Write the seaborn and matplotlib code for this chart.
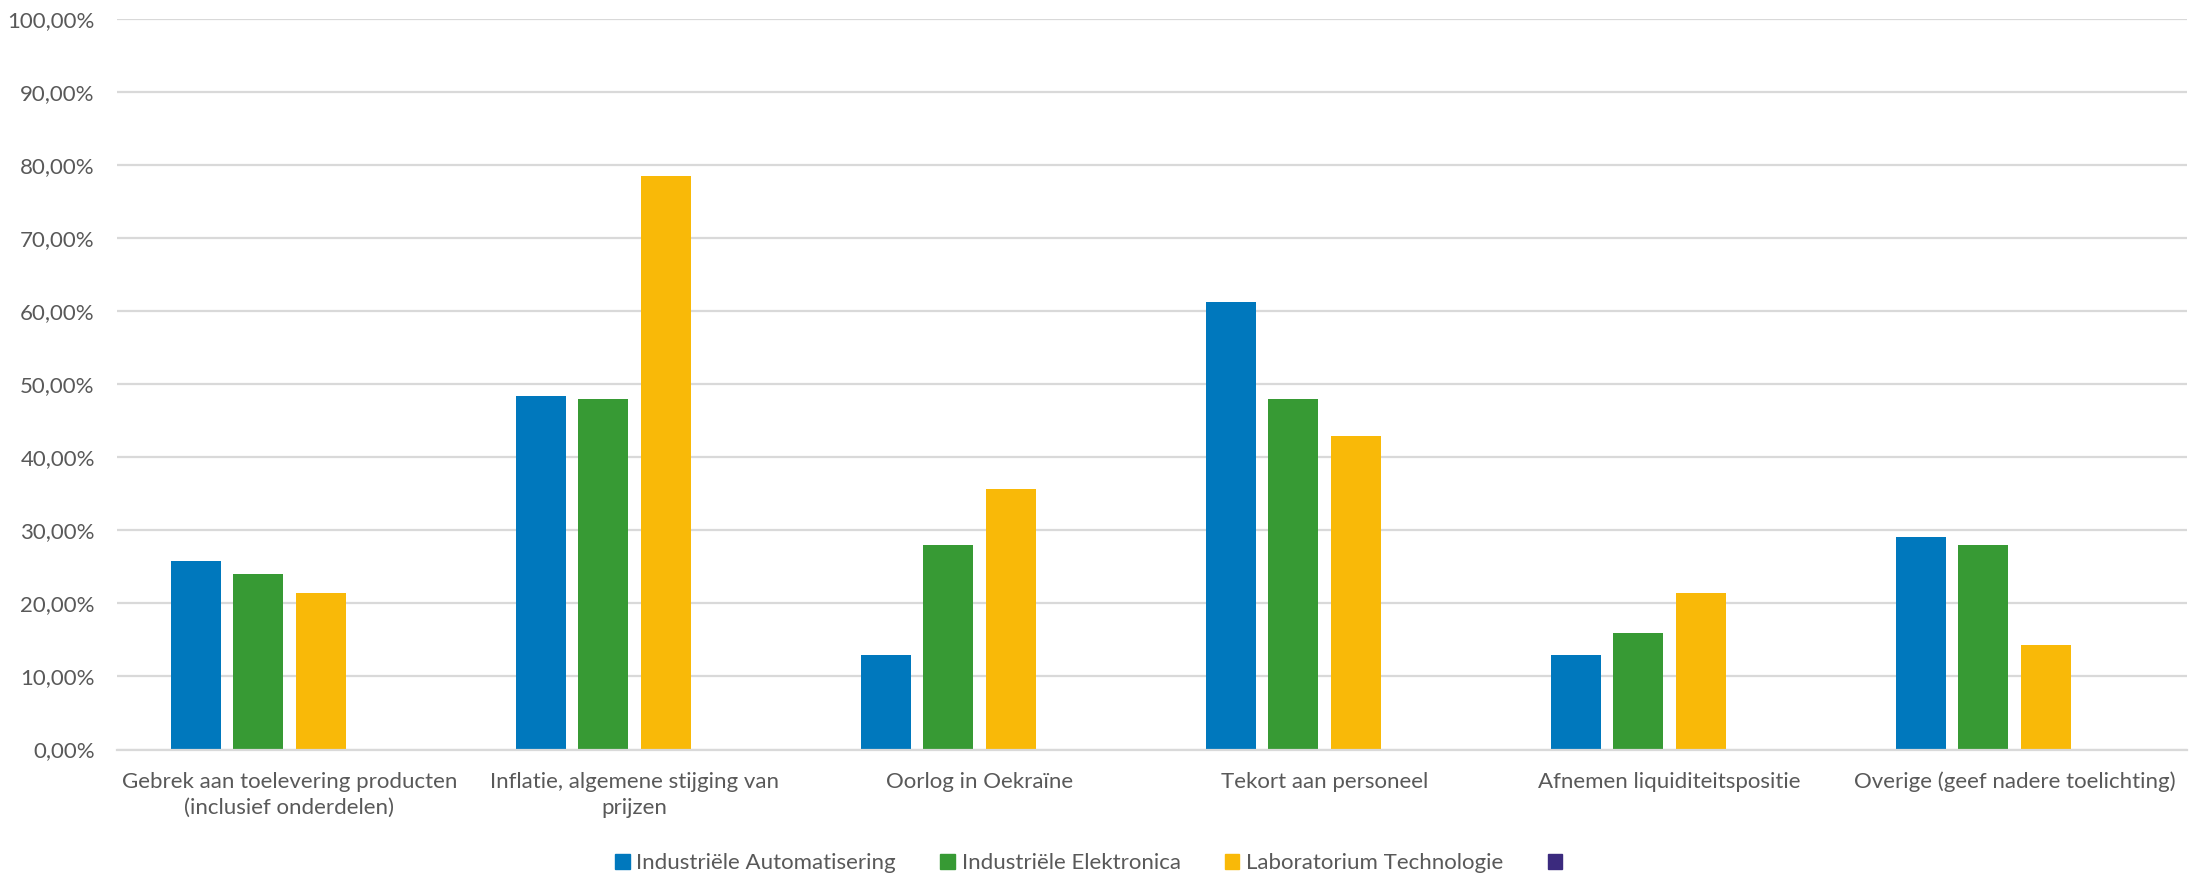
import matplotlib
matplotlib.use("Agg")
import matplotlib.pyplot as plt
import matplotlib.patches as mpatches
from matplotlib.ticker import FuncFormatter, MultipleLocator
import seaborn as sns
import pandas as pd

categories = [
    "Gebrek aan toelevering producten\n(inclusief onderdelen)",
    "Inflatie, algemene stijging van\nprijzen",
    "Oorlog in Oekraïne",
    "Tekort aan personeel",
    "Afnemen liquiditeitspositie",
    "Overige (geef nadere toelichting)",
]
series_names = ["Industriële Automatisering", "Industriële Elektronica",
                "Laboratorium Technologie", " "]
automatisering = [25.81, 48.39, 12.90, 61.29, 12.90, 29.03]
elektronica = [24.00, 48.00, 28.00, 48.00, 16.00, 28.00]
laboratorium = [21.43, 78.57, 35.71, 42.86, 21.43, 14.29]
leeg = [0.0, 0.0, 0.0, 0.0, 0.0, 0.0]
colors = ["#0078BD", "#379A34", "#F9B908", "#3B2A7E"]

rows = []
for name, vals in zip(series_names, [automatisering, elektronica, laboratorium, leeg]):
    for c, v in zip(categories, vals):
        rows.append({"cat": c, "serie": name, "val": v})
df = pd.DataFrame(rows)

sns.set_theme(style="white")
plt.rcParams["font.family"] = ["Lato", "DejaVu Sans"]
text_color = "#595959"
fs = 16

fig = plt.figure(figsize=(21.9, 8.75), dpi=100)
ax = fig.add_axes([117/2190, 1-749.5/875, (2187-117)/2190, (749.5-19)/875])

sns.barplot(data=df, x="cat", y="val", hue="serie", order=categories,
            hue_order=series_names, palette=colors, saturation=1,
            width=0.7235, gap=0.2, linewidth=0, legend=False, ax=ax)

ax.set_ylim(0, 100)
ax.set_xlim(-0.5, len(categories) - 0.5)
ax.yaxis.set_major_locator(MultipleLocator(10))
ax.yaxis.set_major_formatter(FuncFormatter(lambda v, p: f"{v:.2f}".replace(".", ",") + "%"))
ax.grid(axis="y", color="#D9D9D9", linewidth=1.6)
ax.set_axisbelow(True)
for s in ["top", "right", "left"]:
    ax.spines[s].set_visible(False)
ax.spines["bottom"].set_color("#D9D9D9")
ax.spines["bottom"].set_linewidth(1.6)
ax.set_xlabel("")
ax.set_ylabel("")
ax.tick_params(axis="y", length=0, pad=16, labelsize=fs, labelcolor=text_color)
ax.tick_params(axis="x", length=0, pad=16, labelsize=fs, labelcolor=text_color)
for lbl in ax.get_xticklabels():
    lbl.set_linespacing(1.4)

handles = [mpatches.Patch(color=c, label=n) for c, n in zip(colors, series_names)]
fig.legend(handles=handles, loc="center", bbox_to_anchor=(0.5, 1-863/875), ncol=4,
           frameon=False, fontsize=fs, labelcolor=text_color, handlelength=0.65,
           handleheight=0.65, handletextpad=0.3, columnspacing=2.0)

fig.savefig("out.png", dpi=100, facecolor="white")
